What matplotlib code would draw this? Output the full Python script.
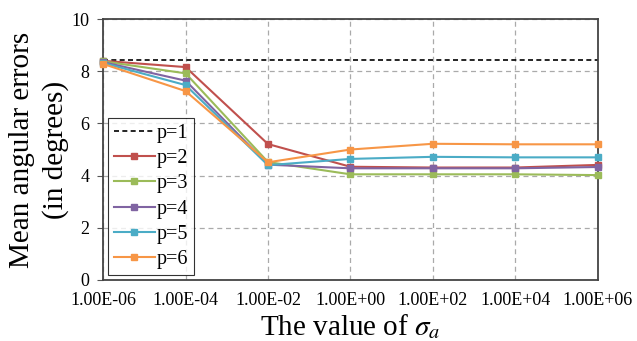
import matplotlib
matplotlib.use("Agg")
import matplotlib.pyplot as plt

plt.rcParams["font.family"] = ["Liberation Serif", "DejaVu Serif"]
plt.rcParams["mathtext.fontset"] = "stix"

x_labels = ["1.00E-06", "1.00E-04", "1.00E-02", "1.00E+00", "1.00E+02", "1.00E+04", "1.00E+06"]
p1 = [8.44, 8.44, 8.44, 8.44, 8.44, 8.44, 8.44]
p2 = [8.40, 8.16, 5.21, 4.34, 4.31, 4.31, 4.41]
p3 = [8.38, 7.92, 4.52, 4.05, 4.05, 4.05, 4.02]
p4 = [8.35, 7.64, 4.42, 4.28, 4.28, 4.28, 4.33]
p5 = [8.32, 7.47, 4.40, 4.64, 4.72, 4.70, 4.70]
p6 = [8.28, 7.24, 4.51, 5.00, 5.22, 5.20, 5.20]

series = [("p=2", p2, "#C0504D"), ("p=3", p3, "#9BBB59"), ("p=4", p4, "#8064A2"),
          ("p=5", p5, "#4BACC6"), ("p=6", p6, "#F79646")]

fig = plt.figure(figsize=(6.37, 3.41), dpi=100)
ax = fig.add_axes([0.162, 0.179, 0.776, 0.765])
xs = range(len(x_labels))

ax.plot(xs, p1, color="black", linestyle=(0, (3, 2)), linewidth=1.2, label="p=1")
for name, vals, col in series:
    ax.plot(xs, vals, color=col, marker="s", markersize=5, linewidth=1.5,
            label=name, clip_on=False, zorder=3)

ax.set_xlim(0, 6)
ax.set_ylim(0, 10)
ax.set_yticks([0, 2, 4, 6, 8, 10])
ax.set_xticks(list(xs))
ax.set_xticklabels(x_labels)
ax.tick_params(labelsize=13, length=0)
ax.tick_params(axis="x", pad=9)
ax.tick_params(axis="y", length=4, direction="out", color="#555555", pad=6)
ax.grid(True, color="#AAAAAA", linestyle=(0, (4, 3)), linewidth=0.9)
for s in ax.spines.values():
    s.set_color("#444444")
    s.set_linewidth(1.3)

ax.set_ylabel("Mean angular errors\n(in degrees)", fontsize=21, linespacing=1.3, labelpad=2)
ax.set_xlabel(r"The value of $\sigma_a$", fontsize=21, labelpad=2)

leg = ax.legend(loc="lower left", fontsize=14.5, frameon=True, fancybox=False,
                edgecolor="black", borderpad=0.3, labelspacing=0.3,
                handlelength=2.0, handletextpad=0.1, borderaxespad=0.25)
leg.get_frame().set_linewidth(0.8)

fig.savefig("out.png", dpi=100)
